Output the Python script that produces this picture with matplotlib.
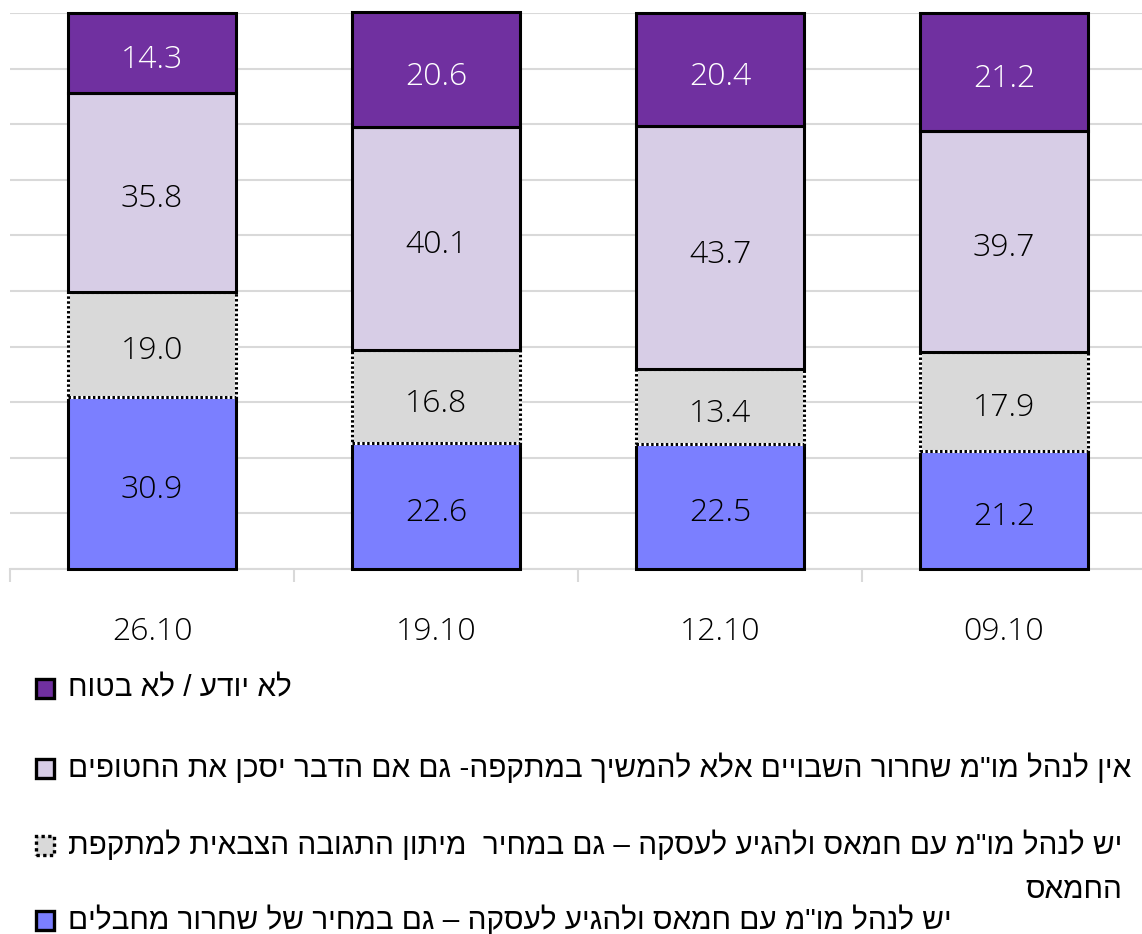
import matplotlib
matplotlib.use("Agg")
import matplotlib.pyplot as plt
from matplotlib.patches import Rectangle

# data (bottom -> top)
dates = ["26.10", "19.10", "12.10", "09.10"]
release_terrorists = [30.9, 22.6, 22.5, 21.2]
moderate_response = [19.0, 16.8, 13.4, 17.9]
no_negotiation = [35.8, 40.1, 43.7, 39.7]
dont_know = [14.3, 20.6, 20.4, 21.2]

legend_labels = [
    'לא יודע / לא בטוח',
    'אין לנהל מו"מ שחרור השבויים אלא להמשיך במתקפה- גם אם הדבר יסכן את החטופים',
    'יש לנהל מו"מ עם חמאס ולהגיע לעסקה – גם במחיר  מיתון התגובה הצבאית למתקפת',
    'החמאס',
    'יש לנהל מו"מ עם חמאס ולהגיע לעסקה – גם במחיר של שחרור מחבלים',
]

c_blue = "#7B7FFF"
c_grey = "#D9D9D9"
c_lav = "#D7CDE6"
c_purple = "#7030A0"

NUM_FONT = ["Open Sans", "DejaVu Sans"]
HEB_FONT = ["Liberation Sans", "DejaVu Sans"]
plt.rcParams["font.family"] = NUM_FONT


def rtl(s):
    # matplotlib has no bidi support, so flip hebrew into visual order
    return s[::-1]


W, H = 1142, 934
fig = plt.figure(figsize=(W / 100, H / 100), dpi=100)
ax = fig.add_axes([10 / W, 1 - 569 / H, 1136 / W, 556 / H])

x = list(range(len(dates)))
bw = 0.59
lw = 2.2

ax.bar(x, release_terrorists, bw, color=c_blue, edgecolor="black", linewidth=lw, zorder=3, clip_on=False)
bottom2 = release_terrorists
ax.bar(x, moderate_response, bw, bottom=bottom2, color=c_grey, edgecolor="white", linewidth=lw, zorder=3, clip_on=False)
ax.bar(x, moderate_response, bw, bottom=bottom2, fill=False, edgecolor="black", linewidth=lw,
       linestyle=(0, (0.8, 0.8)), zorder=3, clip_on=False)
bottom3 = [a + b for a, b in zip(release_terrorists, moderate_response)]
ax.bar(x, no_negotiation, bw, bottom=bottom3, color=c_lav, edgecolor="black", linewidth=lw, zorder=3, clip_on=False)
bottom4 = [a + b for a, b in zip(bottom3, no_negotiation)]
ax.bar(x, dont_know, bw, bottom=bottom4, color=c_purple, edgecolor="black", linewidth=lw, zorder=3, clip_on=False)


def label(i, y, v, col):
    ax.annotate(f"{v:.1f}", (i, y), xytext=(0, -5), textcoords="offset points",
                ha="center", va="center", fontsize=23, fontweight="light", color=col, zorder=5)


for i in x:
    label(i, release_terrorists[i] / 2, release_terrorists[i], "black")
    label(i, bottom2[i] + moderate_response[i] / 2, moderate_response[i], "black")
    label(i, bottom3[i] + no_negotiation[i] / 2, no_negotiation[i], "black")
    label(i, bottom4[i] + dont_know[i] / 2, dont_know[i], "white")

ax.set_xlim(-0.5, len(dates) - 0.5)
ax.set_ylim(0, 100)
ax.set_yticks(range(0, 101, 10))
ax.yaxis.grid(True, color="#D9D9D9", linewidth=1.5, zorder=0)
ax.tick_params(axis="y", left=False, labelleft=False)
for s in ["top", "right", "left"]:
    ax.spines[s].set_visible(False)
ax.spines["bottom"].set_color("#D9D9D9")
ax.spines["bottom"].set_linewidth(1.5)

ax.set_xticks(x)
ax.set_xticklabels(dates, fontsize=23, fontweight="light")
ax.tick_params(axis="x", which="major", length=0, pad=34)
ax.set_xticks([i - 0.5 for i in range(len(dates) + 1)], minor=True)
ax.tick_params(axis="x", which="minor", length=9, width=1.5, color="#D9D9D9")

# legend drawn by hand (right-to-left layout)
leg_fill = [c_purple, c_lav, c_grey, None, c_blue]
leg_y = [688, 768, 845, 890, 920]
for lab, fc, yy in zip(legend_labels, leg_fill, leg_y):
    if fc is None:
        fig.text(1122 / W, 1 - yy / H, rtl(lab), ha="right", va="center", fontsize=21.4, family=HEB_FONT)
        continue
    ls = (0, (1, 1)) if fc == c_grey else "-"
    fig.patches.append(Rectangle((36 / W, 1 - (yy + 10) / H), 18 / W, 19 / H, transform=fig.transFigure,
                                 facecolor=fc, edgecolor="black", linewidth=2.4, linestyle=ls))
    fig.text(68 / W, 1 - yy / H, rtl(lab), ha="left", va="center", fontsize=21.4, family=HEB_FONT)

fig.savefig("out.png", dpi=100)
